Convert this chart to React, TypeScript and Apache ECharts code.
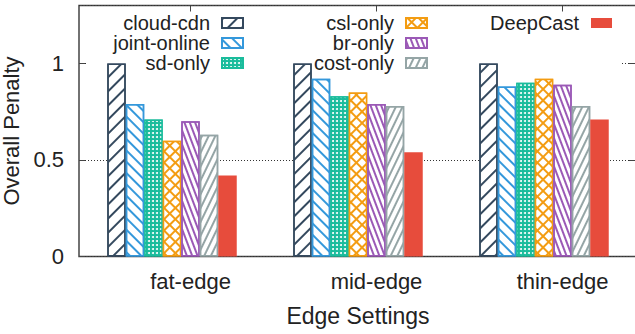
import React, { useEffect, useRef } from 'react';
import * as echarts from 'echarts';

const categories = ['fat-edge', 'mid-edge', 'thin-edge'];
const seriesNames = ['cloud-cdn', 'joint-online', 'sd-only', 'csl-only', 'br-only', 'cost-only', 'DeepCast'];
const cloudCdn = [1.0, 1.0, 1.0];
const jointOnline = [0.79, 0.92, 0.88];
const sdOnly = [0.71, 0.83, 0.9];
const cslOnly = [0.6, 0.85, 0.92];
const brOnly = [0.7, 0.79, 0.89];
const costOnly = [0.63, 0.78, 0.78];
const deepCast = [0.42, 0.54, 0.71];
const seriesValues = [cloudCdn, jointOnline, sdOnly, cslOnly, brOnly, costOnly, deepCast];
const yTicks = [0, 0.5, 1];

const FONT = 'Liberation Sans, Arial, Helvetica, sans-serif';
const TEXT = '#222';
const FRAME = '#444';
const BAR_W = 18.5;

const colors = ['#34495e', '#3498db', '#1abc9c', '#f39c12', '#9b59b6', '#95a5a6', '#e74c3c'];

const decals: any[] = [
  { symbol: 'rect', symbolSize: 1, dashArrayX: [1, 0], dashArrayY: [1.2, 7.3], rotation: -Math.PI / 4, color: colors[0] },
  { symbol: 'rect', symbolSize: 1, dashArrayX: [1, 0], dashArrayY: [1.2, 5.8], rotation: Math.PI / 4, color: colors[1] },
  { symbol: 'circle', symbolSize: 1, dashArrayX: [2, 1.4], dashArrayY: [2, 1.4], rotation: 0, color: '#ffffff' },
  { symbol: 'rect', symbolSize: 1, dashArrayX: [5.5, 1.3], dashArrayY: [5.5, 1.3], rotation: Math.PI / 4, color: '#ffffff' },
  { symbol: 'rect', symbolSize: 1, dashArrayX: [1, 0], dashArrayY: [1.1, 2.4], rotation: Math.PI / 2.6, color: colors[4] },
  { symbol: 'rect', symbolSize: 1, dashArrayX: [1, 0], dashArrayY: [1.1, 3.2], rotation: -Math.PI / 2.8, color: colors[5] },
  null,
];
const fills = ['#ffffff', '#ffffff', colors[2], colors[3], '#ffffff', '#ffffff', colors[6]];

export default function App() {
  const ref = useRef<HTMLDivElement>(null);
  useEffect(() => {
    if (!ref.current) return;
    const chart = echarts.init(ref.current, undefined, { renderer: 'svg' });
    const series = seriesNames.map((name, i) => {
      const itemStyle: any = {
        color: fills[i],
        borderColor: colors[i],
        borderWidth: i === 6 ? 0 : 1.5,
      };
      if (decals[i]) itemStyle.decal = decals[i];
      return {
        name,
        type: 'bar',
        data: seriesValues[i],
        barWidth: BAR_W,
        barGap: '0%',
        itemStyle,
        z: 2,
      };
    });
    const legendBase = {
      orient: 'vertical',
      align: 'right',
      icon: 'rect',
      itemWidth: 21,
      itemHeight: 10,
      itemGap: 0,
      padding: 0,
      top: 13,
      textStyle: { fontFamily: FONT, fontSize: 20, color: TEXT, lineHeight: 19.2, padding: [0, 7, 0, 0] },
    };
    chart.setOption({
      animation: false,
      backgroundColor: '#fff',
      textStyle: { fontFamily: FONT },
      grid: {
        left: 79,
        top: 5.5,
        width: 558,
        height: 251,
        show: true,
        borderColor: FRAME,
        borderWidth: 1.5,
        backgroundColor: 'transparent',
        outerBoundsMode: 'none',
        containLabel: false,
      },
      legend: [
        { ...legendBase, right: 391, data: seriesNames.slice(0, 3) },
        { ...legendBase, right: 207, data: seriesNames.slice(3, 6) },
        { ...legendBase, right: 23, data: seriesNames.slice(6) },
      ],
      xAxis: {
        type: 'category',
        data: categories,
        axisLine: { show: false },
        axisTick: { show: false },
        axisLabel: { fontFamily: FONT, fontSize: 22, color: TEXT, margin: 14, padding: [0, 0, 0, 2 * BAR_W] },
        name: 'Edge Settings',
        nameLocation: 'middle',
        nameGap: 48,
        nameTextStyle: { fontFamily: FONT, fontSize: 23, color: TEXT },
      },
      yAxis: [
        {
          type: 'value',
          min: 0,
          max: 1.3,
          interval: 0.5,
          z: 0,
          axisLine: { show: false },
          axisTick: { show: true, inside: true, length: 6, lineStyle: { color: FRAME, width: 1 } },
          axisLabel: {
            fontFamily: FONT,
            fontSize: 22,
            color: TEXT,
            margin: 15,
            showMaxLabel: false,
            formatter: (v: number) => (yTicks.includes(v) ? String(v) : ''),
          },
          splitLine: { show: true, lineStyle: { color: '#333', width: 1, type: [1, 2] } },
          name: 'Overall Penalty',
          nameLocation: 'middle',
          nameGap: 53,
          nameTextStyle: { fontFamily: FONT, fontSize: 22, color: TEXT, lineHeight: 22, padding: 0 },
        },
        {
          type: 'value',
          position: 'right',
          min: 0,
          max: 1.3,
          interval: 0.5,
          axisLine: { show: false },
          axisTick: { show: true, inside: true, length: 8, lineStyle: { color: FRAME, width: 1 } },
          axisLabel: { show: false },
          splitLine: { show: false },
        },
      ],
      series,
    });
    const topY = chart.convertToPixel({ yAxisIndex: 0 }, 1.3) as number;
    const ticks = categories.map((c) => {
      const x = (chart.convertToPixel({ xAxisIndex: 0 }, c) as number) + BAR_W;
      return {
        type: 'line',
        z: 3,
        shape: { x1: x, y1: topY, x2: x, y2: topY + 6 },
        style: { stroke: FRAME, lineWidth: 1 },
      };
    });
    const oneY = chart.convertToPixel({ yAxisIndex: 0 }, 1) as number;
    chart.setOption({
      graphic: [
        {
          type: 'rect',
          z: 1,
          shape: { x: 86, y: topY + 3, width: 534, height: oneY - topY + 2 },
          style: { fill: '#fff' },
        },
        ...ticks,
      ],
    });
    return () => chart.dispose();
  }, []);
  return <div ref={ref} style={{ position: 'fixed', left: 0, top: 0, width: 635, height: 334 }} />;
}
